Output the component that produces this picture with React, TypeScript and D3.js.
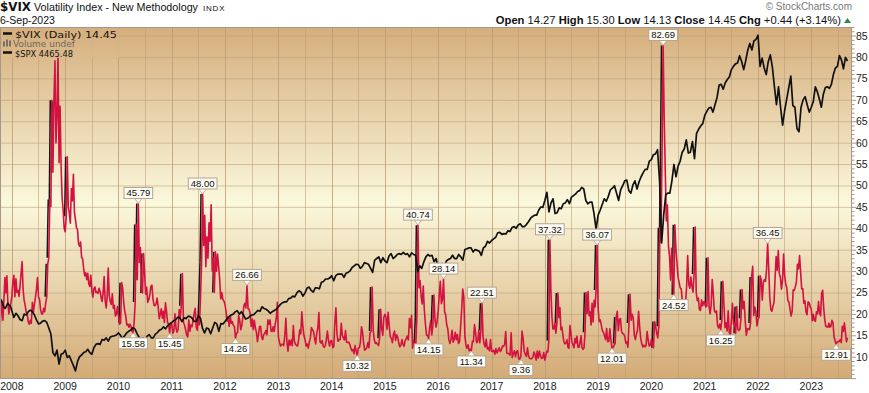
import * as d3 from 'd3';

type Pt = { date: Date; value: number };

const W = 869;
const H = 393;
const plot = { left: 0, top: 27, right: 852, bottom: 379 };

// $VIX weekly closes, one array per year (2007 starts mid-October, 2023 ends 6-Sep)
const vix2007 = [17.0, 20.0, 22.9, 18.5, 23.5, 28.5, 24.9, 28.9, 22.5, 20.0, 21.5, 22.5];
const vix2008 = [23.9, 27.5, 29.0, 24.0, 28.2, 25.0, 25.5, 24.1, 26.5, 29.4, 32.2, 25.7, 23.2, 22.0, 20.4, 20.0, 18.2, 17.6, 18.5, 17.8, 22.7, 20.4, 22.2, 23.9, 25.7, 28.5, 23.9, 23.4, 21.0, 20.0, 20.0, 21.3, 20.5, 22.6, 24.0, 31.7, 33.1, 46.7, 45.1, 69.9, 53.1, 69.6, 79.1, 59.9, 66.3, 80.9, 55.3, 68.5, 54.3, 47.0, 44.2, 40.0];
const vix2009 = [39.2, 42.8, 56.7, 45.0, 43.6, 41.2, 49.3, 46.4, 52.6, 43.7, 42.0, 40.1, 39.7, 36.4, 35.8, 36.8, 33.2, 32.9, 30.6, 28.9, 29.6, 28.0, 29.5, 27.0, 26.4, 29.0, 25.4, 23.9, 25.9, 26.3, 25.0, 25.1, 24.8, 26.0, 25.3, 23.9, 22.9, 24.9, 28.7, 23.1, 21.4, 24.2, 30.7, 24.2, 22.9, 22.2, 24.7, 21.3, 22.0, 19.5, 20.0, 21.7];
const vix2010 = [19.4, 17.6, 17.9, 27.3, 26.1, 22.7, 20.6, 19.5, 17.4, 17.6, 16.9, 17.6, 17.0, 16.0, 15.6, 18.0, 22.8, 40.9, 28.0, 45.8, 32.0, 35.5, 25.9, 24.9, 34.1, 29.7, 24.6, 26.2, 22.7, 23.3, 24.4, 26.4, 26.7, 23.7, 22.0, 21.9, 22.4, 23.7, 21.7, 18.9, 19.9, 21.2, 19.0, 20.6, 18.0, 22.6, 20.6, 18.0, 17.6, 15.5, 17.8];
const vix2011 = [17.6, 15.5, 16.0, 20.0, 16.7, 15.7, 16.4, 21.0, 19.1, 21.9, 29.4, 18.0, 17.4, 16.3, 15.1, 14.6, 18.6, 15.9, 17.4, 17.0, 18.5, 20.0, 21.3, 16.9, 16.2, 19.5, 17.5, 23.7, 32.0, 48.0, 36.0, 43.0, 31.0, 38.0, 33.0, 41.3, 37.0, 45.5, 30.0, 33.0, 25.0, 34.5, 30.0, 34.0, 31.2, 28.0, 23.5, 25.0, 23.4, 23.0];
const vix2012 = [22.2, 20.5, 18.3, 19.4, 17.1, 19.6, 17.8, 18.2, 17.3, 17.1, 14.3, 15.5, 15.6, 19.6, 18.6, 16.3, 17.2, 19.2, 21.9, 22.5, 21.4, 26.7, 21.2, 21.1, 20.1, 17.1, 18.8, 16.3, 18.5, 16.7, 15.7, 13.5, 15.2, 17.0, 17.1, 14.6, 14.0, 15.2, 15.4, 16.1, 15.1, 18.6, 17.6, 18.6, 16.0, 15.9, 17.0, 15.9, 17.7, 19.0, 22.7];
const vix2013 = [14.6, 13.4, 12.5, 12.9, 12.9, 12.6, 14.8, 19.0, 13.5, 11.3, 13.9, 12.7, 13.9, 12.6, 17.3, 13.6, 12.9, 12.6, 12.5, 14.0, 16.3, 15.3, 20.5, 16.9, 14.9, 14.0, 12.5, 13.0, 12.0, 13.4, 14.4, 16.8, 16.3, 15.9, 14.2, 13.0, 15.5, 16.7, 20.3, 13.5, 13.2, 13.8, 12.5, 12.2, 12.6, 14.0, 16.0, 13.8, 12.5, 13.7];
const vix2014 = [13.8, 12.1, 12.4, 18.1, 21.4, 15.3, 13.6, 14.0, 14.0, 17.8, 15.0, 14.4, 13.9, 16.1, 13.4, 13.3, 13.4, 12.9, 12.0, 11.4, 11.7, 10.7, 12.6, 11.3, 10.3, 12.0, 12.1, 13.3, 17.0, 15.8, 13.2, 11.5, 11.8, 12.1, 13.3, 12.1, 15.5, 16.0, 26.3, 16.1, 14.0, 13.1, 13.3, 12.9, 12.6, 14.3, 21.1, 16.5, 15.0, 19.2];
const vix2015 = [19.9, 19.2, 16.4, 20.4, 17.3, 14.7, 14.3, 13.3, 15.2, 16.0, 13.8, 15.1, 14.6, 13.2, 12.3, 12.7, 14.0, 12.9, 12.4, 13.8, 14.2, 14.8, 13.9, 18.9, 16.8, 19.7, 12.0, 13.7, 12.1, 13.0, 19.1, 40.7, 26.1, 27.8, 24.0, 22.3, 26.5, 20.9, 17.7, 15.1, 15.0, 14.2, 16.8, 18.4, 15.1, 17.2, 24.4, 18.7, 16.9, 18.2];
const vix2016 = [20.7, 24.4, 27.6, 22.4, 23.4, 28.1, 20.5, 19.8, 17.4, 16.5, 14.0, 13.1, 14.1, 16.2, 13.4, 14.0, 15.7, 14.0, 15.2, 13.1, 13.5, 17.0, 21.0, 25.8, 23.9, 14.8, 12.7, 12.0, 12.8, 11.4, 11.7, 11.3, 13.6, 13.5, 17.5, 15.5, 13.3, 13.5, 16.1, 13.3, 16.2, 22.5, 14.7, 12.9, 12.3, 14.1, 11.8, 12.2, 11.4, 14.0];
const vix2017 = [11.3, 11.2, 11.5, 10.6, 11.9, 10.9, 11.5, 12.1, 11.2, 11.6, 12.5, 12.4, 12.9, 15.9, 10.8, 10.8, 10.6, 10.4, 15.6, 9.8, 10.7, 11.4, 10.0, 11.2, 11.4, 9.5, 9.4, 10.3, 16.0, 14.3, 11.3, 10.6, 10.1, 12.1, 10.2, 9.6, 9.5, 9.6, 9.9, 11.1, 10.5, 9.2, 11.3, 9.7, 11.3, 10.2, 9.6, 9.7, 11.0];
const vix2018 = [9.2, 10.2, 11.3, 11.1, 13.8, 37.3, 25.6, 19.5, 16.5, 16.5, 17.8, 15.5, 17.9, 24.9, 19.1, 21.5, 16.3, 16.9, 15.0, 13.4, 13.0, 13.2, 14.0, 12.2, 12.0, 17.3, 15.5, 13.4, 12.8, 12.1, 14.3, 13.2, 14.8, 12.2, 12.2, 13.2, 14.9, 12.1, 11.7, 12.1, 15.7, 25.0, 20.1, 25.2, 19.6, 20.5, 17.4, 22.5, 18.1, 23.2, 21.6, 25.6, 36.1];
const vix2019 = [21.4, 18.2, 18.6, 17.4, 16.1, 15.7, 14.9, 14.0, 16.6, 13.5, 13.6, 16.5, 14.0, 12.0, 12.1, 12.7, 13.1, 19.3, 20.6, 16.1, 18.7, 18.9, 15.9, 15.4, 15.3, 14.8, 13.2, 13.5, 12.2, 17.9, 24.6, 18.5, 19.9, 19.0, 15.0, 14.0, 15.3, 16.2, 20.6, 17.0, 14.3, 13.0, 12.3, 12.7, 12.3, 12.6, 15.9, 13.9, 12.5, 12.7];
const vix2020 = [14.0, 12.5, 12.1, 18.2, 17.1, 15.5, 14.4, 17.1, 40.1, 36.8, 57.8, 82.7, 66.0, 53.5, 41.7, 45.4, 35.9, 33.5, 27.9, 35.3, 28.2, 24.5, 40.8, 35.1, 31.8, 28.6, 27.3, 26.1, 25.8, 23.0, 22.1, 21.4, 22.5, 26.4, 33.6, 26.9, 26.0, 28.6, 26.4, 25.1, 29.3, 40.3, 24.9, 23.1, 23.7, 21.0, 20.8, 23.3, 21.9, 22.8];
const vix2021 = [22.8, 21.6, 21.9, 33.1, 21.8, 20.0, 22.1, 28.0, 24.7, 20.7, 20.3, 20.7, 17.3, 16.7, 17.6, 16.25, 18.6, 27.6, 22.2, 16.8, 17.9, 16.0, 20.7, 15.6, 15.1, 18.5, 22.5, 17.6, 17.9, 15.5, 21.7, 16.4, 16.1, 16.4, 19.0, 25.7, 21.2, 22.9, 18.3, 15.0, 16.5, 16.5, 16.3, 17.9, 28.6, 31.1, 19.6, 21.6, 20.4, 17.2];
const vix2022 = [18.8, 19.2, 28.9, 28.0, 23.2, 27.4, 28.0, 27.6, 30.3, 36.5, 30.8, 23.9, 21.0, 20.6, 21.8, 22.7, 28.2, 33.4, 30.2, 34.8, 29.4, 28.5, 25.8, 27.8, 34.0, 29.0, 27.0, 26.1, 23.1, 22.8, 21.1, 19.5, 20.6, 25.6, 25.5, 26.3, 27.4, 31.6, 30.5, 33.6, 29.7, 25.8, 25.9, 22.5, 23.1, 20.5, 19.8, 22.8, 22.6, 21.7];
const vix2023 = [21.1, 18.4, 19.9, 18.5, 18.3, 20.5, 20.0, 22.9, 20.3, 19.6, 24.8, 25.5, 21.4, 18.7, 17.1, 17.0, 16.9, 17.8, 16.9, 17.1, 18.5, 17.9, 14.6, 13.8, 12.9, 13.4, 13.6, 13.5, 14.0, 13.3, 17.1, 15.9, 17.9, 15.7, 13.5, 14.45];

// $SPX closes, roughly every two weeks
const spx2007 = [1561, 1540, 1500, 1453, 1440, 1470, 1505, 1480, 1468];
const spx2008 = [1411, 1330, 1380, 1350, 1305, 1290, 1370, 1360, 1400, 1420, 1400, 1360, 1300, 1250, 1260, 1285, 1290, 1270, 1200, 1130, 900, 860, 930, 760, 880, 890];
const spx2009 = [930, 840, 860, 800, 740, 676, 790, 850, 870, 900, 910, 940, 900, 880, 960, 1000, 1010, 1000, 1060, 1050, 1080, 1040, 1090, 1100, 1105, 1115];
const spx2010 = [1140, 1110, 1070, 1105, 1140, 1160, 1175, 1205, 1190, 1135, 1090, 1060, 1080, 1040, 1100, 1120, 1080, 1080, 1125, 1145, 1175, 1185, 1215, 1190, 1230, 1250];
const spx2011 = [1270, 1290, 1305, 1335, 1320, 1280, 1325, 1315, 1345, 1340, 1320, 1280, 1280, 1350, 1320, 1200, 1140, 1200, 1190, 1130, 1200, 1270, 1250, 1160, 1255, 1250];
const spx2012 = [1280, 1315, 1340, 1360, 1370, 1400, 1410, 1370, 1400, 1360, 1310, 1320, 1340, 1360, 1365, 1390, 1415, 1405, 1460, 1440, 1430, 1410, 1380, 1400, 1415, 1430];
const spx2013 = [1460, 1490, 1510, 1520, 1520, 1560, 1565, 1590, 1580, 1630, 1655, 1640, 1590, 1630, 1690, 1700, 1660, 1640, 1690, 1690, 1680, 1760, 1770, 1800, 1800, 1810];
const spx2014 = [1840, 1780, 1840, 1860, 1860, 1860, 1820, 1870, 1880, 1900, 1940, 1960, 1980, 1975, 1930, 1955, 2000, 1990, 1980, 1930, 1880, 2030, 2050, 2070, 2000, 2060];
const spx2015 = [2020, 2000, 2080, 2110, 2050, 2070, 2100, 2110, 2100, 2125, 2100, 2110, 2070, 2120, 2100, 2090, 1890, 1960, 1930, 2010, 2070, 2100, 2080, 2090, 2010, 2050];
const spx2016 = [1920, 1870, 1860, 1950, 2020, 2040, 2050, 2090, 2050, 2050, 2100, 2070, 2030, 2160, 2170, 2180, 2180, 2130, 2160, 2150, 2140, 2090, 2180, 2200, 2260, 2240];
const spx2017 = [2270, 2290, 2310, 2365, 2370, 2345, 2355, 2350, 2390, 2380, 2430, 2440, 2420, 2460, 2475, 2440, 2440, 2465, 2500, 2540, 2565, 2580, 2580, 2640, 2680, 2675];
const spx2018 = [2760, 2860, 2620, 2730, 2780, 2600, 2610, 2670, 2660, 2720, 2730, 2770, 2720, 2800, 2820, 2840, 2870, 2880, 2920, 2900, 2760, 2720, 2740, 2740, 2600, 2410];
const spx2019 = [2580, 2640, 2710, 2780, 2750, 2810, 2890, 2910, 2940, 2850, 2760, 2890, 2940, 3000, 3010, 2880, 2850, 2950, 3000, 2900, 2990, 3050, 3100, 3140, 3140, 3240];
const spx2020 = [3260, 3320, 3330, 3380, 3000, 2240, 2580, 2830, 2850, 2850, 3000, 3200, 3050, 3180, 3240, 3350, 3390, 3500, 3340, 3350, 3480, 3270, 3580, 3630, 3670, 3700];
const spx2021 = [3800, 3850, 3890, 3900, 3840, 3930, 4020, 4170, 4180, 4120, 4200, 4240, 4270, 4360, 4400, 4430, 4440, 4530, 4460, 4360, 4470, 4600, 4680, 4600, 4710, 4730];
const spx2022 = [4780, 4400, 4500, 4380, 4300, 4460, 4540, 4390, 4150, 3930, 4150, 3900, 3680, 3860, 4000, 4140, 4280, 3920, 3900, 3640, 3600, 3900, 3990, 4030, 3930, 3840];
const spx2023 = [3900, 3970, 4150, 4090, 4000, 3900, 4060, 4140, 4150, 4130, 4180, 4300, 4380, 4400, 4530, 4480, 4370, 4510, 4465];

const vixYears: [number, number[]][] = [
  [2007, vix2007], [2008, vix2008], [2009, vix2009], [2010, vix2010], [2011, vix2011], [2012, vix2012],
  [2013, vix2013], [2014, vix2014], [2015, vix2015], [2016, vix2016], [2017, vix2017], [2018, vix2018],
  [2019, vix2019], [2020, vix2020], [2021, vix2021], [2022, vix2022], [2023, vix2023],
];
const spxYears: [number, number[]][] = [
  [2007, spx2007], [2008, spx2008], [2009, spx2009], [2010, spx2010], [2011, spx2011], [2012, spx2012],
  [2013, spx2013], [2014, spx2014], [2015, spx2015], [2016, spx2016], [2017, spx2017], [2018, spx2018],
  [2019, spx2019], [2020, spx2020], [2021, spx2021], [2022, spx2022], [2023, spx2023],
];

// annotated highs / lows
const peakLabels = [
  { date: '2010-05-20', value: 45.79 },
  { date: '2011-08-08', value: 48.0 },
  { date: '2012-06-01', value: 26.66 },
  { date: '2015-08-24', value: 40.74 },
  { date: '2016-02-11', value: 28.14 },
  { date: '2016-11-04', value: 22.51 },
  { date: '2018-02-05', value: 37.32 },
  { date: '2018-12-24', value: 36.07 },
  { date: '2020-03-16', value: 82.69 },
  { date: '2022-03-07', value: 36.45 },
];
const troughLabels = [
  { date: '2010-04-12', value: 15.58 },
  { date: '2010-12-20', value: 15.45 },
  { date: '2012-03-16', value: 14.26 },
  { date: '2014-07-03', value: 10.32 },
  { date: '2015-11-03', value: 14.15 },
  { date: '2016-08-15', value: 11.34 },
  { date: '2017-07-26', value: 9.36 },
  { date: '2019-04-12', value: 12.01 },
  { date: '2020-06-05', value: 24.52 },
  { date: '2021-04-26', value: 16.25 },
  { date: '2023-06-26', value: 12.91 },
];

const yTicks = d3.range(10, 90, 5);
const xYears = d3.range(2008, 2024);
const vixDomain = [4.8, 87.0];
const spxDomain = [577, 4881];
const firstDay = new Date(2007, 9, 12);
const lastDay = new Date(2023, 8, 6);

function spreadYears(years: [number, number[]][]): Pt[] {
  const out: Pt[] = [];
  years.forEach(([yr, vals], k) => {
    const isLast = k === years.length - 1;
    const s = k === 0 ? firstDay : new Date(yr, 0, 1);
    const e = isLast ? lastDay : new Date(yr + 1, 0, 1);
    const n = isLast ? vals.length - 1 : vals.length;
    vals.forEach((v, i) => out.push({ date: new Date(+s + ((+e - +s) * i) / n), value: v }));
  });
  return out;
}

const sans = 'Liberation Sans, Arial, sans-serif';
const verd = 'DejaVu Sans, Verdana, sans-serif';

export default function App() {
  const x = d3.scaleTime().domain([firstDay, new Date(2023, 9, 7)]).range([plot.left, plot.right]);
  const y = d3.scaleLinear().domain(vixDomain).range([plot.bottom, plot.top]);
  const ySpx = d3.scaleLinear().domain(spxDomain).range([plot.bottom, plot.top]);

  const vix = spreadYears(vixYears);
  const spx = spreadYears(spxYears);

  const vixLine = d3.line<Pt>().x(d => x(d.date)).y(d => y(d.value));
  const spxLine = d3.line<Pt>().x(d => x(d.date)).y(d => ySpx(d.value));

  // big up-moves show a dark edge in the original
  const rises = vix.slice(1)
    .map((d, i) => [vix[i], d] as [Pt, Pt])
    .filter(([a, b]) => b.value - a.value > 6 && b.value / a.value > 1.3);

  const anchorX = (date: string, high: boolean) => {
    const t = new Date(date + 'T00:00:00');
    const near = vix.filter(d => Math.abs(+d.date - +t) < 12 * 864e5);
    const best = high ? d3.greatest(near, d => d.value) : d3.least(near, d => d.value);
    return x(best ? best.date : t);
  };

  const labelBox = (lx: number, ly: number, value: number, high: boolean, key: string) => {
    const txt = value.toFixed(2);
    const tw = txt.length * 5.0 - 2.3;
    const bw = tw + 6;
    const bh = 11;
    const gap = 5;
    const by = high ? ly - gap - bh : ly + gap;
    const tri = high
      ? `${lx},${ly} ${lx - 4},${ly - gap - 0.5} ${lx + 4},${ly - gap - 0.5}`
      : `${lx},${ly} ${lx - 4},${ly + gap + 0.5} ${lx + 4},${ly + gap + 0.5}`;
    return (
      <g key={key}>
        <polygon points={tri} fill="#fdfbf0" stroke="#b5a595" strokeWidth={0.8} />
        <rect x={lx - bw / 2} y={by} width={bw} height={bh} fill="#fdfcf4" stroke="#b5a595" strokeWidth={1} />
        <text x={lx} y={by + 9} textAnchor="middle" fontSize={9.5} fontFamily={sans} fill="#111">{txt}</text>
      </g>
    );
  };

  const halfYears = d3.timeMonth.every(6)!.range(new Date(2008, 0, 1), new Date(2023, 9, 7));

  return (
    <div style={{ position: 'absolute', left: 0, top: 0 }}>
      <svg width={W} height={H} style={{ display: 'block', background: '#fff' }}>
        <defs>
          <linearGradient id="bg" gradientUnits="userSpaceOnUse" x1={0} y1={plot.top} x2={0} y2={plot.bottom}>
            <stop offset="0" stopColor="#d5ae7c" />
            <stop offset="0.5" stopColor="#fbf8dc" />
            <stop offset="1" stopColor="#d3aa76" />
          </linearGradient>
          <clipPath id="clip">
            <rect x={plot.left} y={plot.top} width={plot.right - plot.left} height={plot.bottom - plot.top} />
          </clipPath>
        </defs>

        {/* header */}
        <text x={0} y={11} fontFamily={verd} fontWeight="bold" fontSize={11.5} textLength={31} lengthAdjust="spacingAndGlyphs" fill="#111">$VIX</text>
        <text x={34} y={11} fontFamily={sans} fontSize={11} textLength={164} lengthAdjust="spacingAndGlyphs" fill="#111">Volatility Index - New Methodology</text>
        <text x={203} y={11} fontFamily={sans} fontSize={8} letterSpacing={0.8} fill="#111">INDX</text>
        <text x={0} y={24} fontFamily={sans} fontSize={10.5} fill="#111">6-Sep-2023</text>
        <text x={852} y={10} textAnchor="end" fontFamily={sans} fontSize={10} fill="#777">© StockCharts.com</text>
        <text x={841} y={24} textAnchor="end" fontFamily={sans} fontSize={11.2} fill="#111">
          <tspan fontWeight="bold">Open</tspan> 14.27 <tspan fontWeight="bold">High</tspan> 15.30 <tspan fontWeight="bold">Low</tspan> 14.13 <tspan fontWeight="bold">Close</tspan> 14.45 <tspan fontWeight="bold">Chg</tspan> +0.44 (+3.14%)
        </text>
        <polygon points="844,23 851,23 847.5,18" fill="#2e8b3a" />

        {/* plot background + grid */}
        <rect x={plot.left} y={plot.top} width={plot.right - plot.left} height={plot.bottom - plot.top} fill="url(#bg)" />
        <g clipPath="url(#clip)">
          {yTicks.map(t => (
            <line key={'h' + t} x1={plot.left} x2={plot.right} y1={y(t) + 0.5} y2={y(t) + 0.5} stroke="#b99c74" strokeOpacity={0.55} />
          ))}
          {halfYears.map(d => (
            <line key={'v' + +d} x1={Math.round(x(d)) + 0.5} x2={Math.round(x(d)) + 0.5} y1={plot.top} y2={plot.bottom}
              stroke="#b99c74" strokeOpacity={d.getMonth() === 0 ? 0.8 : 0.55} />
          ))}

          {rises.map(([a, b], i) => (
            <path key={'r' + i} d={vixLine([a, b]) || ''} transform="translate(-1.6,0)" fill="none" stroke="#161616" strokeWidth={1.5} />
          ))}
          <path d={vixLine(vix) || ''} fill="none" stroke="#d3123f" strokeWidth={1.6} strokeLinejoin="round" />
          <path d={spxLine(spx) || ''} fill="none" stroke="#111" strokeWidth={1.7} strokeLinejoin="round" />
        </g>

        {/* labels */}
        {peakLabels.map((l, i) => labelBox(anchorX(l.date, true), y(l.value), l.value, true, 'p' + i))}
        {troughLabels.map((l, i) => labelBox(anchorX(l.date, false), y(l.value), l.value, false, 't' + i))}

        {/* legend */}
        <rect x={1} y={28} width={118} height={30} fill="url(#bg)" opacity={0.85} />
        <line x1={3} x2={12} y1={33.5} y2={33.5} stroke="#111" strokeWidth={2.5} />
        <text x={15} y={37.5} fontFamily={verd} fontSize={9.5} textLength={102} lengthAdjust="spacingAndGlyphs" fill="#111">$VIX (Daily) 14.45</text>
        <g fill="#7a7068">
          <rect x={3} y={41.5} width={2} height={5} />
          <rect x={6} y={39.5} width={2} height={7} />
          <rect x={9} y={40.5} width={2} height={6} />
        </g>
        <text x={13} y={47} fontFamily={verd} fontSize={9.5} textLength={62} lengthAdjust="spacingAndGlyphs" fill="#6f675f">Volume undef</text>
        <line x1={3} x2={12} y1={52.5} y2={52.5} stroke="#111" strokeWidth={2.5} />
        <text x={15} y={56.5} fontFamily={verd} fontSize={9.5} textLength={58} lengthAdjust="spacingAndGlyphs" fill="#111">$SPX 4465.48</text>

        {/* frame */}
        <rect x={plot.left + 0.5} y={plot.top + 0.5} width={plot.right - plot.left - 1} height={plot.bottom - plot.top - 1}
          fill="none" stroke="#a8968a" />

        {/* right axis */}
        {d3.range(5, 88).map(v => (
          <line key={'m' + v} x1={plot.right} x2={plot.right + (v % 5 === 0 ? 4 : 2.5)} y1={y(v) + 0.5} y2={y(v) + 0.5} stroke="#a8968a" />
        ))}
        {yTicks.map(t => (
          <text key={'yl' + t} x={856} y={y(t) + 4} fontFamily={sans} fontSize={10.5} fill="#222">{t}</text>
        ))}

        {/* bottom axis */}
        {xYears.map(yr => (
          <text key={'xl' + yr} x={x(new Date(yr, 0, 1))} y={389.5} textAnchor="middle" fontFamily={sans} fontSize={10.5} fill="#222">{yr}</text>
        ))}
      </svg>
    </div>
  );
}
